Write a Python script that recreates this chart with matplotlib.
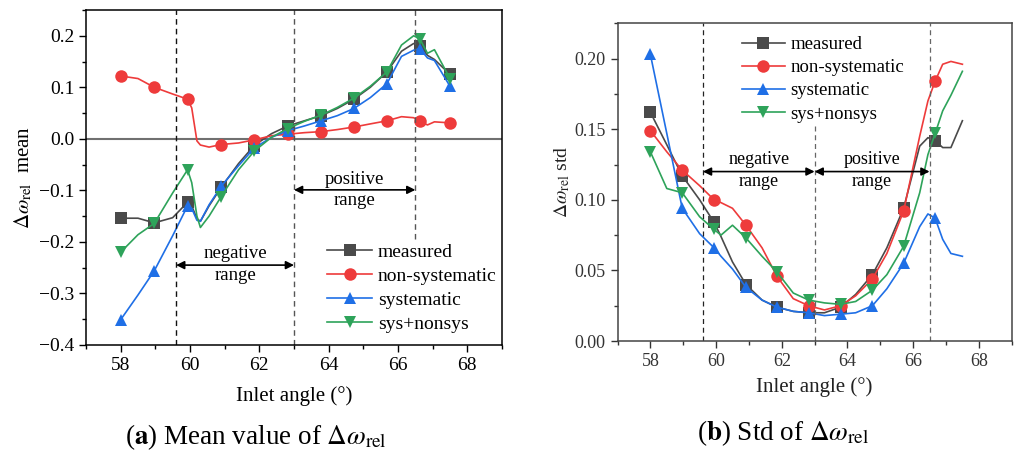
import matplotlib
matplotlib.use('Agg')
import matplotlib.pyplot as plt
from matplotlib.ticker import MultipleLocator

plt.rcParams['font.family'] = ['Liberation Serif', 'DejaVu Serif']
plt.rcParams['mathtext.fontset'] = 'stix'

# ---- (a) mean values ----
x_a = [58, 58.5, 58.97, 59.5, 59.93, 60.05, 60.2, 60.3, 60.55, 60.9, 61.4, 61.85, 62.35,
       62.82, 63.3, 63.78, 64.25, 64.73, 65.2, 65.68, 66.1, 66.45, 66.63, 66.85, 67.05, 67.5]
mark_a = [0, 2, 4, 9, 11, 13, 15, 17, 19, 22, 25]
measured_a = [-0.154, -0.154, -0.163, -0.153, -0.123, -0.130, -0.155, -0.160, -0.130, -0.094,
              -0.048, -0.013, 0.010, 0.025, 0.035, 0.045, 0.059, 0.077, 0.100, 0.130,
              0.170, 0.185, 0.181, 0.162, 0.154, 0.125]
nonsys_a = [0.122, 0.117, 0.100, 0.087, 0.077, 0.060, -0.004, -0.012, -0.016, -0.011,
            -0.008, -0.002, 0.006, 0.009, 0.012, 0.014, 0.018, 0.023, 0.029, 0.035,
            0.043, 0.041, 0.034, 0.027, 0.033, 0.031]
sys_a = [-0.351, -0.303, -0.256, -0.188, -0.130, -0.135, -0.158, -0.160, -0.128, -0.092,
         -0.052, -0.018, 0.003, 0.016, 0.025, 0.035, 0.045, 0.059, 0.080, 0.107,
         0.160, 0.172, 0.175, 0.157, 0.152, 0.102]
both_a = [-0.220, -0.186, -0.164, -0.105, -0.060, -0.085, -0.150, -0.172, -0.150, -0.112,
          -0.060, -0.024, 0.003, 0.020, 0.034, 0.046, 0.061, 0.079, 0.102, 0.130,
          0.182, 0.200, 0.194, 0.166, 0.173, 0.117]

# ---- (b) std values ----
x_b = [58, 58.5, 58.97, 59.5, 59.94, 60.15, 60.5, 60.91, 61.4, 61.85, 62.35, 62.82,
       63.3, 63.79, 64.25, 64.76, 65.2, 65.71, 66.2, 66.45, 66.67, 66.9, 67.15, 67.5]
mark_b = [0, 2, 4, 7, 9, 11, 13, 15, 17, 20]
measured_b = [0.162, 0.139, 0.117, 0.100, 0.084, 0.074, 0.056, 0.040, 0.029, 0.024, 0.021,
              0.020, 0.020, 0.024, 0.033, 0.047, 0.066, 0.094, 0.138, 0.144, 0.142,
              0.137, 0.137, 0.156]
nonsys_b = [0.149, 0.134, 0.121, 0.110, 0.100, 0.098, 0.094, 0.082, 0.066, 0.046, 0.030,
            0.025, 0.022, 0.025, 0.032, 0.044, 0.062, 0.092, 0.145, 0.170, 0.184,
            0.196, 0.198, 0.196]
sys_b = [0.203, 0.147, 0.094, 0.076, 0.066, 0.060, 0.051, 0.038, 0.029, 0.024, 0.021,
         0.020, 0.018, 0.019, 0.020, 0.025, 0.037, 0.055, 0.081, 0.090, 0.087,
         0.072, 0.062, 0.060]
both_b = [0.134, 0.108, 0.105, 0.088, 0.079, 0.075, 0.082, 0.073, 0.060, 0.049, 0.034,
          0.029, 0.027, 0.026, 0.028, 0.036, 0.047, 0.067, 0.105, 0.132, 0.147,
          0.163, 0.174, 0.191]

labels = ['measured', 'non-systematic', 'systematic', 'sys+nonsys']
colors = ['#4a4a4a', '#ee3b3b', '#1f6fe6', '#2ea35a']
markers = ['s', 'o', '^', 'v']

fig = plt.figure(figsize=(10.14, 4.55), dpi=100)
ax1 = fig.add_axes([0.0848, 0.2418, 0.4103, 0.7362])
ax2 = fig.add_axes([0.609, 0.2505, 0.3887, 0.6983])

for ys, c, m, lab in zip([measured_a, nonsys_a, sys_a, both_a], colors, markers, labels):
    ax1.plot(x_a, ys, color=c, lw=1.2, marker=m, markevery=mark_a, ms=9,
             markeredgewidth=0, label=lab)
for ys, c, m, lab in zip([measured_b, nonsys_b, sys_b, both_b], colors, markers, labels):
    ax2.plot(x_b, ys, color=c, lw=1.2, marker=m, markevery=mark_b, ms=9,
             markeredgewidth=0, label=lab)

# panel a decorations
ax1.axhline(0, color='#707070', lw=1.5, zorder=0)
ax1.axvline(59.6, color='#111111', lw=1, ls=(0, (4, 3)))
ax1.axvline(63.0, color='#555555', lw=1, ls=(0, (4, 3)))
ax1.axvline(66.5, ymin=0.315, color='#555555', lw=1, ls=(0, (4, 3)))
arr = dict(arrowstyle='<|-|>', color='k', lw=1.2, mutation_scale=12, shrinkA=0, shrinkB=0)
ax1.annotate('', xy=(63.0, -0.245), xytext=(59.6, -0.245), arrowprops=arr)
ax1.annotate('', xy=(66.5, -0.099), xytext=(63.0, -0.099), arrowprops=arr)
ax1.text(61.3, -0.222, 'negative', ha='center', va='center', fontsize=13.5)
ax1.text(61.3, -0.265, 'range', ha='center', va='center', fontsize=13.5)
ax1.text(64.75, -0.079, 'positive', ha='center', va='center', fontsize=13.5)
ax1.text(64.75, -0.120, 'range', ha='center', va='center', fontsize=13.5)

ax1.set_xlim(57, 69)
ax1.set_ylim(-0.4, 0.25)
ax1.xaxis.set_major_locator(MultipleLocator(2))
ax1.xaxis.set_minor_locator(MultipleLocator(1))
ax1.yaxis.set_major_locator(MultipleLocator(0.1))
ax1.yaxis.set_minor_locator(MultipleLocator(0.05))
ax1.set_yticks([-0.4, -0.3, -0.2, -0.1, 0.0, 0.1, 0.2])
ax1.set_yticklabels(['\u22120.4', '\u22120.3', '\u22120.2', '\u22120.1', '0.0', '0.1', '0.2'])
ax1.tick_params(which='both', direction='out', labelsize=14, width=1)
ax1.tick_params(which='major', length=5)
ax1.tick_params(which='minor', length=3)
ax1.set_xlabel('Inlet angle (\u00b0)', fontsize=15, labelpad=9)
ax1.set_ylabel(r'$\Delta\omega_{\rm rel}$  mean', fontsize=15, labelpad=3)
for s in ax1.spines.values():
    s.set_linewidth(1.1)
ax1.legend(loc='lower left', bbox_to_anchor=(0.58, 0.035), frameon=False, fontsize=14,
           handlelength=2.3, handletextpad=0.3, labelspacing=0.33, borderpad=0,
           borderaxespad=0)

# panel b decorations
ax2.axvline(59.6, color='#222222', lw=0.9, ls=(0, (4, 3)))
ax2.axvline(63.0, ymax=0.676, color='#666666', lw=0.9, ls=(0, (4, 3)))
ax2.axvline(66.5, color='#666666', lw=0.9, ls=(0, (4, 3)))
ax2.annotate('', xy=(63.0, 0.120), xytext=(59.6, 0.120), arrowprops=arr)
ax2.annotate('', xy=(66.5, 0.120), xytext=(63.0, 0.120), arrowprops=arr)
ax2.text(61.3, 0.1285, 'negative', ha='center', va='center', fontsize=13)
ax2.text(61.3, 0.113, 'range', ha='center', va='center', fontsize=13)
ax2.text(64.75, 0.1285, 'positive', ha='center', va='center', fontsize=13)
ax2.text(64.75, 0.113, 'range', ha='center', va='center', fontsize=13)

ax2.set_xlim(57, 69)
ax2.set_ylim(0, 0.225)
ax2.xaxis.set_major_locator(MultipleLocator(2))
ax2.xaxis.set_minor_locator(MultipleLocator(1))
ax2.yaxis.set_major_locator(MultipleLocator(0.05))
ax2.yaxis.set_minor_locator(MultipleLocator(0.025))
ax2.yaxis.set_major_formatter(matplotlib.ticker.FormatStrFormatter('%.2f'))
ax2.tick_params(which='both', direction='out', labelsize=13, width=1, colors='#333333')
ax2.tick_params(which='major', length=5)
ax2.tick_params(which='minor', length=3)
ax2.set_xlabel('Inlet angle (\u00b0)', fontsize=15, labelpad=5, color='#222222')
ax2.set_ylabel(r'$\Delta\omega_{\rm rel}$ std', fontsize=14, labelpad=2, color='#222222')
for s in ax2.spines.values():
    s.set_linewidth(1.1)
    s.set_color('#444444')
ax2.legend(loc='upper left', bbox_to_anchor=(0.315, 0.96), frameon=False, fontsize=13.5,
           handlelength=2.3, handletextpad=0.3, labelspacing=0.32, borderpad=0,
           borderaxespad=0)

fig.text(0.2525, 0.04, r'($\mathbf{a}$) Mean value of $\Delta\omega_{\rm rel}$',
         ha='center', va='center', fontsize=19.5)
fig.text(0.772, 0.048, r'($\mathbf{b}$) Std of $\Delta\omega_{\rm rel}$',
         ha='center', va='center', fontsize=19.5)

fig.savefig('out.png', dpi=100)
